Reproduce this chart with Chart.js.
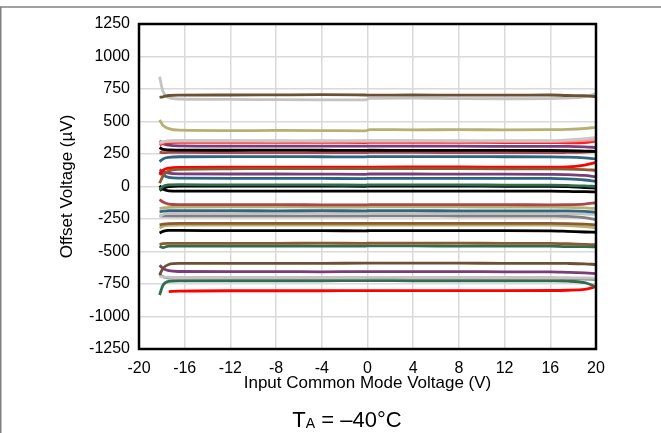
<!DOCTYPE html>
<html>

<head>
  <script src="https://cdn.jsdelivr.net/npm/chart.js"></script>
  <style>
    body { margin: 0; background: #fff; }
    #wrap { position: relative; width: 661px; height: 433px; }
    #caption {
      position: absolute; left: 247px; width: 200px; top: 407px;
      text-align: center; font: 22px "Liberation Sans", Arial, sans-serif; color: #000;
    }
    #caption span { font-size: 14px; position: relative; top: 1px; }
  </style>
</head>

<body>
  <div id="wrap">
    <canvas id="chart"></canvas>
    <div id="caption">T<span>A</span> = &ndash;40&deg;C</div>
  </div>
  <script>
    // input common mode voltage (V), shared by all units
    var vcm = [-18.2, -17.9, -17.4, -16.5, -12, -8, -4, -0.2, 0.2, 4, 8, 12, 16, 17.5, 19, 20];

    // offset voltage (uV) for each unit
    var unit01 = [686, 690, 700, 703, 704, 705, 706, 704, 703, 704, 703, 703, 704, 700, 698, 692];
    var unit02 = [845, 730, 685, 673, 670, 668, 667, 667, 678, 680, 676, 675, 676, 680, 690, 715];
    var unit03 = [512, 470, 445, 433, 430, 431, 430, 428, 438, 436, 437, 436, 438, 440, 446, 455];
    var unit04 = [340, 345, 350, 352, 352, 350, 352, 350, 352, 352, 350, 352, 352, 358, 368, 378];
    var unit05 = [330, 340, 348, 350, 350, 350, 348, 350, 350, 350, 350, 348, 348, 350, 355, 360];
    var unit06 = [320, 330, 338, 340, 340, 340, 340, 338, 340, 340, 340, 338, 338, 336, 338, 350];
    var unit07 = [352, 330, 318, 313, 311, 310, 310, 310, 311, 310, 310, 309, 308, 308, 305, 300];
    var unit08 = [300, 285, 281, 280, 279, 280, 279, 278, 279, 278, 278, 278, 277, 275, 272, 270];
    var unit09 = [265, 260, 262, 262, 261, 260, 260, 260, 262, 262, 261, 260, 260, 262, 265, 270];
    var unit10 = [192, 212, 224, 229, 230, 230, 229, 228, 230, 230, 230, 229, 228, 226, 220, 212];
    var unit11 = [25, 80, 120, 132, 136, 138, 138, 137, 138, 138, 137, 136, 135, 134, 130, 125];
    var unit12 = [90, 125, 142, 147, 148, 148, 149, 148, 149, 150, 150, 149, 148, 150, 165, 185];
    var unit13 = [128, 115, 102, 97, 96, 96, 95, 94, 96, 96, 95, 95, 94, 92, 85, 75];
    var unit14 = [115, 90, 70, 64, 63, 63, 62, 61, 63, 63, 63, 62, 62, 58, 50, 40];
    var unit15 = [-25, 0, 12, 14, 12, 12, 12, 11, 12, 12, 12, 11, 10, 8, 5, 0];
    var unit16 = [-30, -15, 0, 3, 3, 3, 3, 2, 3, 3, 3, 2, 2, 0, -8, -12];
    var unit17 = [5, -20, -33, -35, -35, -35, -35, -36, -35, -35, -35, -35, -36, -38, -40, -42];
    var unit18 = [-100, -120, -135, -139, -140, -140, -141, -142, -140, -140, -140, -140, -141, -140, -135, -125];
    var unit19 = [-170, -165, -160, -158, -157, -157, -158, -158, -156, -157, -157, -158, -158, -160, -165, -170];
    var unit20 = [-195, -190, -186, -186, -186, -187, -186, -187, -186, -186, -187, -187, -187, -188, -192, -198];
    var unit21 = [-235, -215, -207, -205, -205, -205, -206, -206, -205, -205, -205, -206, -206, -208, -212, -215];
    var unit22 = [-225, -228, -227, -227, -227, -227, -228, -228, -226, -226, -227, -227, -228, -230, -240, -255];
    var unit23 = [-295, -290, -285, -283, -283, -283, -284, -284, -283, -283, -283, -283, -283, -285, -290, -295];
    var unit24 = [-320, -305, -298, -296, -296, -296, -297, -297, -296, -296, -296, -296, -297, -300, -308, -318];
    var unit25 = [-358, -345, -338, -338, -340, -340, -340, -341, -340, -340, -340, -340, -341, -345, -350, -352];
    var unit26 = [-445, -440, -438, -437, -437, -437, -436, -437, -436, -436, -436, -437, -437, -440, -445, -448];
    var unit27 = [-460, -470, -458, -458, -458, -458, -459, -458, -457, -457, -458, -458, -459, -462, -462, -465];
    var unit28 = [-680, -630, -600, -592, -592, -591, -591, -590, -590, -590, -590, -591, -591, -592, -595, -600];
    var unit29 = [-605, -630, -648, -654, -655, -655, -656, -655, -655, -655, -655, -656, -656, -660, -665, -670];
    var unit30 = [-690, -695, -698, -700, -700, -700, -700, -700, -699, -700, -700, -700, -700, -702, -704, -705];
    var unit31 = [-675, -695, -704, -706, -706, -706, -706, -706, -705, -706, -706, -706, -706, -708, -712, -715];
    var unit32 = [-835, -760, -730, -726, -725, -725, -725, -724, -724, -725, -725, -725, -726, -728, -740, -770];
    var unit33 = [null, null, -809, -805, -802, -802, -802, -801, -801, -801, -801, -801, -800, -798, -792, -770];

    var units = [unit01, unit02, unit03, unit04, unit05, unit06, unit07, unit08, unit09, unit10, unit11,
      unit12, unit13, unit14, unit15, unit16, unit17, unit18, unit19, unit20, unit21, unit22,
      unit23, unit24, unit25, unit26, unit27, unit28, unit29, unit30, unit31, unit32, unit33];

    var unitColors = ['#6b5132', '#c3c3c3', '#b8b070', '#c8c8c8', '#f29a9a', '#ff2020', '#7a3d7a', '#000000',
      '#a84848', '#2f6683', '#8c5a30', '#ff0000', '#7a3d7a', '#2f6683', '#2e6e4c', '#000000', '#000000',
      '#a84848', '#b8b070', '#2f6683', '#c3c3c3', '#808080', '#8c5a30', '#b8b070', '#000000', '#8c5a30',
      '#2e6e4c', '#6b5132', '#7a3d7a', '#c3c3c3', '#808080', '#2e6e4c', '#ff0000'];

    var tickFont = { family: '"Liberation Sans", Arial, sans-serif', size: 16 };
    var titleFont = { family: '"Liberation Sans", Arial, sans-serif', size: 17 };

    var frame = {
      id: 'frame',
      beforeDraw: function (chart) {
        var c = chart.ctx;
        c.save();
        c.strokeStyle = '#808080';
        c.lineWidth = 1.5;
        c.beginPath();
        c.moveTo(0, 7); c.lineTo(661, 7);
        c.moveTo(0.75, 7); c.lineTo(0.75, 433);
        c.stroke();
        c.restore();
      },
      afterDatasetsDraw: function (chart) {
        var a = chart.chartArea, c = chart.ctx;
        c.save();
        c.strokeStyle = '#000';
        c.lineWidth = 2.5;
        c.strokeRect(a.left, a.top, a.right - a.left, a.bottom - a.top);
        c.restore();
      }
    };

    var datasets = units.map(function (u, i) {
      return {
        data: u.map(function (v, k) { return { x: vcm[k], y: v }; }),
        borderColor: unitColors[i],
        borderWidth: 2.8,
        pointRadius: 0,
        cubicInterpolationMode: 'monotone',
        fill: false
      };
    });

    new Chart(document.getElementById('chart'), {
      type: 'line',
      data: { datasets: datasets },
      plugins: [frame],
      options: {
        responsive: true,
        maintainAspectRatio: false,
        animation: false,
        layout: { padding: { left: 55, right: 65, top: 24, bottom: 39 } },
        plugins: { legend: { display: false }, tooltip: { enabled: false } },
        scales: {
          x: {
            type: 'linear', min: -20, max: 20,
            ticks: { stepSize: 4, color: '#000', font: tickFont, padding: 10, maxRotation: 0,
              callback: function (v) { return String(v); } },
            grid: { color: '#d9d9d9', lineWidth: 1.5, drawTicks: false },
            border: { display: false },
            title: { display: true, text: 'Input Common Mode Voltage (V)', color: '#000', font: titleFont, padding: 0 },
            afterFit: function (s) { s.height = 45; }
          },
          y: {
            min: -1250, max: 1250,
            ticks: { stepSize: 250, color: '#000', font: tickFont, padding: 9,
              callback: function (v) { return String(v); } },
            grid: { color: '#d9d9d9', lineWidth: 1.5, drawTicks: false },
            border: { display: false },
            title: { display: true, text: 'Offset Voltage (\u00b5V)', color: '#000', font: titleFont, padding: 2 },
            afterFit: function (s) { s.width = 84; }
          }
        }
      }
    });
  </script>
</body>

</html>
